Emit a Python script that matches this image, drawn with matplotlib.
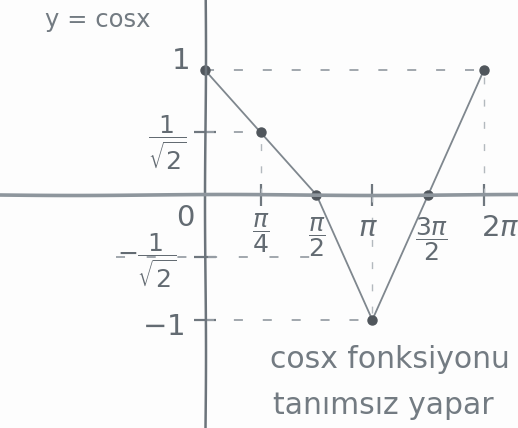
import numpy as np
import matplotlib
matplotlib.use("Agg")
import matplotlib.pyplot as plt

# points of y = cos x that are marked on the sketch
x_knots = [0, np.pi / 4, np.pi / 2, np.pi, 3 * np.pi / 2, 2 * np.pi]
x_labels = ["", r"$\dfrac{\pi}{4}$", r"$\dfrac{\pi}{2}$", r"$\pi$", r"$\dfrac{3\pi}{2}$", r"$2\pi$"]
y_knots = [-1, -1 / np.sqrt(2), 0, 1 / np.sqrt(2), 1]
y_labels = [r"$-1$", r"$-\dfrac{1}{\sqrt{2}}$", "0", r"$\dfrac{1}{\sqrt{2}}$", "1"]
cos_vals = [1, 1 / np.sqrt(2), 0, -1, 0, 1]

pencil = "#7f878e"
lead = "#50565c"


def knot_scale(knots):
    # evenly spaced knots, linear in between and beyond the ends
    knots = np.asarray(knots, float)
    idx = np.arange(len(knots), dtype=float)
    lo_step = knots[1] - knots[0]
    hi_step = knots[-1] - knots[-2]

    def fwd(v):
        v = np.asarray(v, float)
        out = np.interp(v, knots, idx)
        out = np.where(v < knots[0], (v - knots[0]) / lo_step, out)
        out = np.where(v > knots[-1], idx[-1] + (v - knots[-1]) / hi_step, out)
        return out

    def inv(p):
        p = np.asarray(p, float)
        out = np.interp(p, idx, knots)
        out = np.where(p < 0, knots[0] + p * lo_step, out)
        out = np.where(p > idx[-1], knots[-1] + (p - idx[-1]) * hi_step, out)
        return out

    return fwd, inv


fig = plt.figure(figsize=(5.18, 4.28), dpi=100)
fig.patch.set_facecolor("#fdfdfd")
ax = fig.add_axes([0, 0, 1, 1])
ax.set_facecolor("#fdfdfd")

xf, xi = knot_scale(x_knots)
yf, yi = knot_scale(y_knots)
ax.set_xscale("function", functions=(xf, xi))
ax.set_yscale("function", functions=(yf, yi))
ax.set_xlim(float(xi(-3.67)), float(xi(5.61)))
ax.set_ylim(float(yi(2 - 3.73)), float(yi(2 + 3.12)))

# axes drawn through the origin
for side in ["top", "right"]:
    ax.spines[side].set_visible(False)
ax.spines["left"].set_position(("data", 0))
ax.spines["bottom"].set_position(("data", 0))
ax.spines["left"].set_color("#6c747b")
ax.spines["bottom"].set_color("#8e969d")
ax.spines["left"].set_linewidth(1.8)
ax.spines["bottom"].set_linewidth(2.6)
for sp in ax.spines.values():
    sp.set_sketch_params(0.5, 300, 1)

ax.set_xticks([x_knots[1], x_knots[3], x_knots[5]])
ax.set_yticks([y_knots[0], y_knots[1], y_knots[3]])
ax.set_xticklabels([])
ax.set_yticklabels([])
ax.tick_params(direction="inout", length=16, width=1.6, color="#6f777e")

# dashed guides from each marked point back to the axes
for x, y in zip(x_knots, cos_vals):
    if x != 0 and y != 0:
        ax.plot([0, x], [y, y], ls=(0, (5, 11)), color="#9aa1a7", lw=1.3)
        ax.plot([x, x], [0, y], ls=(0, (5, 11)), color="#b3b9be", lw=1.0)
ax.plot([float(xi(-1.6)), x_knots[2]], [y_knots[1]] * 2,
        ls=(0, (5, 12)), color="#9aa1a7", lw=1.3)

ax.plot(x_knots, cos_vals, color=pencil, lw=1.3)
ax.plot(x_knots, cos_vals, "o", color=lead, ms=6.5, ls="none")

txt = dict(color="#636b72", ha="center", va="center", textcoords="offset pixels")
x_offsets = [None, (0, -38), (0, -42), (-4, -33), (4, -44), (16, -33)]
for x, lab, off in zip(x_knots, x_labels, x_offsets):
    if lab:
        size = 18 if "frac" in lab else 21
        ax.annotate(lab, (x, 0), xytext=off, fontsize=size, **txt)
y_offsets = [(-42, -7), (-58, -3), (-20, -23), (-38, -10), (-24, 9)]
for y, lab, off in zip(y_knots, y_labels, y_offsets):
    size = 18 if "frac" in lab else 21
    ax.annotate(lab, (0, y), xytext=off, fontsize=size, **txt)

fig.text(45 / 518, 1 - 20 / 428, "y = cosx", fontsize=17.5, color="#737b82",
         va="center", ha="left")
fig.text(270 / 518, 1 - 360 / 428, "cosx fonksiyonu", fontsize=21.5,
         color="#737b82", va="center", ha="left")
fig.text(273 / 518, 1 - 405 / 428, "tanımsız yapar", fontsize=21.5,
         color="#737b82", va="center", ha="left")

fig.savefig("out.png", dpi=100, facecolor=fig.get_facecolor())
